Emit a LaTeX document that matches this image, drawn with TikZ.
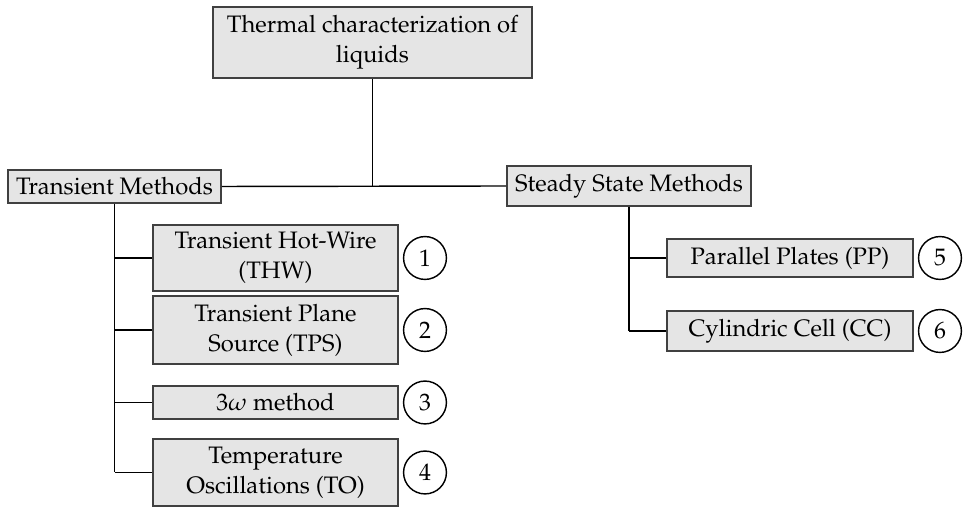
\documentclass[tikz,border=0pt]{standalone}
\usepackage[T1]{fontenc}
\usepackage{mathpazo}
\begin{document}
\begin{tikzpicture}[x=0.42pt,y=-0.42pt,
  every node/.style={font=\fontsize{10}{12.6}\selectfont},
  box/.style={draw=black!75,line width=0.85pt,fill=black!10,align=center,inner ysep=3.2pt},
  leaf/.style={box,minimum width=103pt},
  num/.style={draw,circle,line width=0.6pt,minimum size=18pt,inner sep=0pt},
  link/.style={line width=0.6pt}]
\useasboundingbox (0,0) rectangle (964,507);

\node[box,minimum width=134pt,minimum height=30pt] (top) at (372.5,42.5) {Thermal characterization of\\liquids};

\node[box ] (tm)  at (114.5,186.5) {Transient Methods};
\node[box ] (ssm) at (629,186)     {Steady State Methods};

\node[leaf] (thw) at (275.5,258)   {Transient Hot-Wire\\(THW)};
\node[leaf] (tps) at (275.5,330)   {Transient Plane\\Source (TPS)};
\node[leaf] (tw)  at (275.5,402.5) {$3\omega$ method};
\node[leaf] (to)  at (275.5,472.5) {Temperature\\Oscillations (TO)};

\node[leaf] (pp)  at (790,258)     {Parallel Plates (PP)};
\node[leaf] (cc)  at (790,331)     {Cylindric Cell (CC)};

\node[num ] (n1)  at (425,258)     {1};
\node[num ] (n2)  at (425,330)     {2};
\node[num ] (n3)  at (425,402.5)   {3};
\node[num ] (n4)  at (425,472.5)   {4};
\node[num ] (n5)  at (940,258)     {5};
\node[num ] (n6)  at (940,331)     {6};

% trunks
\draw[link] (top.south) -- (top.south |- tm.east);
\draw[link] (tm.east) -- (ssm.west);
\draw[link] (tm.south) -- (tm.south |- to.west);
\draw[link] (ssm.south) -- (ssm.south |- cc.west);

% branches
\foreach \leaf in {thw,tps,tw,to}
  \draw[link] (tm.south |- \leaf.west) -- (\leaf.west);
\foreach \leaf in {pp,cc}
  \draw[link] (ssm.south |- \leaf.west) -- (\leaf.west);
\end{tikzpicture}
\end{document}
